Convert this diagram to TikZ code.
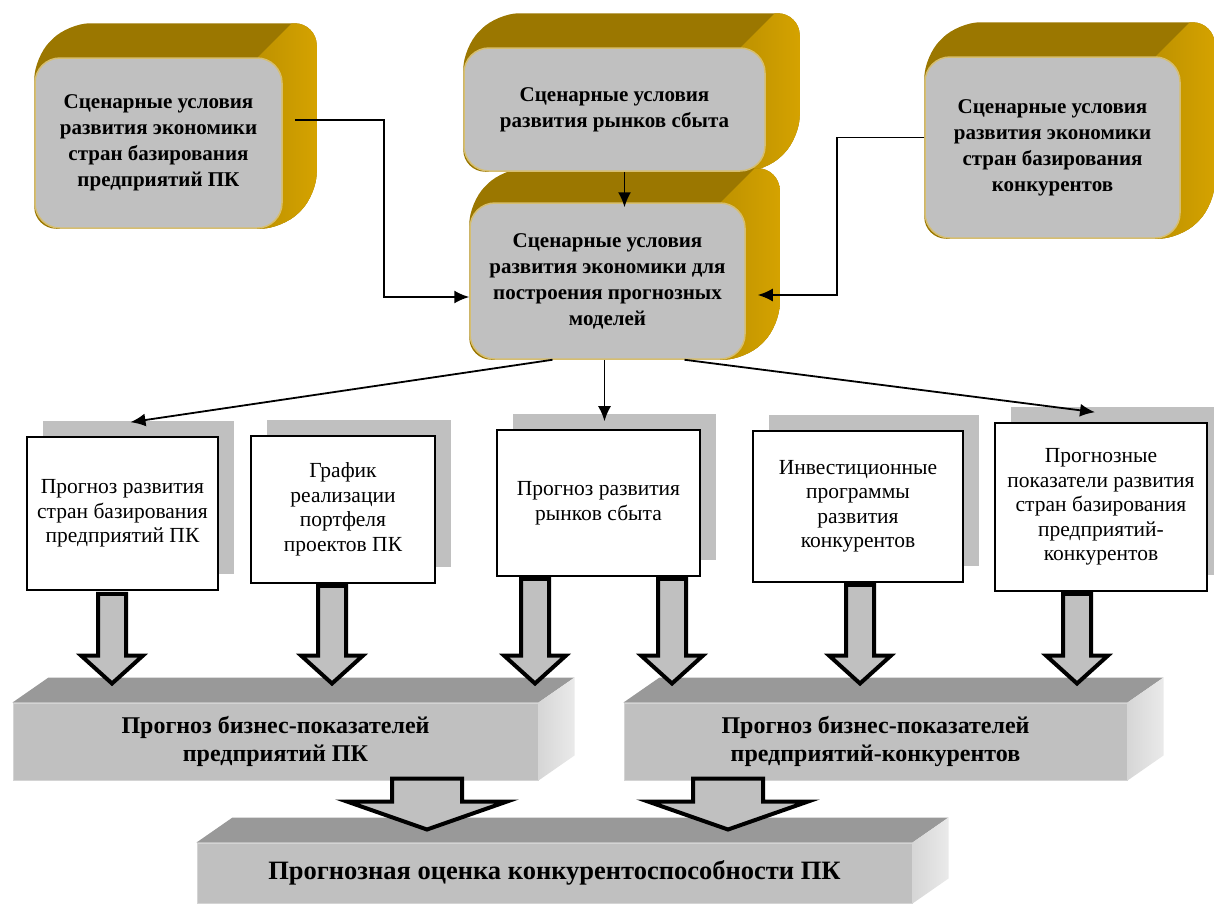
\documentclass[tikz,border=0pt]{standalone}
\usepackage{fontspec}
\setmainfont{Liberation Serif}
\usetikzlibrary{arrows.meta,shadows,backgrounds,calc}

\definecolor{facegray}{RGB}{192,192,192}
\definecolor{goldtop}{RGB}{155,119,0}
\definecolor{goldside}{RGB}{226,172,0}
\definecolor{goldsidel}{RGB}{190,146,0}
\definecolor{goldrim}{RGB}{214,190,112}
\definecolor{slabtop}{RGB}{153,153,153}
\definecolor{slabsidel}{RGB}{214,214,214}
\definecolor{slabsider}{RGB}{234,234,234}
\definecolor{slabrim}{RGB}{212,212,212}

\tikzset{
  goldface/.style={draw=goldrim, line width=1.5pt, fill=facegray, rounded corners=25pt,
    inner sep=0pt, align=center, font=\fontsize{21}{26}\selectfont\bfseries},
  whitebox/.style={draw=black, line width=1.6pt, fill=white, inner sep=0pt, align=center,
    font=\fontsize{21.5}{24.5}\selectfont,
    drop shadow={shadow xshift=16pt, shadow yshift=16pt, fill=facegray, opacity=1}},
  slabface/.style={draw=slabrim, line width=1pt, fill=facegray, inner sep=0pt, align=center,
    font=\fontsize{24}{28}\selectfont\bfseries},
  conn/.style={line width=1.8pt, -{Latex[length=15pt,width=13pt]}},
  fatarr/.style={draw=black, line width=4pt, fill=facegray},
}

% golden body behind a rounded front face
\newcommand{\goldback}[1]{%
  \begin{scope}[on background layer]
  \begin{scope}
    \path[clip, rounded corners=22pt] (#1.south west) -- (#1.north west)
      -- ([shift={(34,-34)}]#1.north west) -- ([shift={(34,-34)}]#1.north east)
      -- ([shift={(34,-34)}]#1.south east) -- (#1.south east) -- cycle;
    \fill[goldtop] ([shift={(-40,40)}]#1.south west) rectangle ([shift={(80,-80)}]#1.north east);
    \shade[left color=goldsidel, right color=goldside] ([xshift=-25pt]#1.north east) -- ++(34,-34)
      -- ++(60,0) -- ([xshift=60pt]#1.south east) -- ([xshift=-25pt]#1.south east) -- cycle;
  \end{scope}
  \end{scope}}

% top and side of a flat grey slab
\newcommand{\slabback}[1]{%
  \fill[slabtop] (#1.north west) -- ++(36,-25) -- ([shift={(36,-25)}]#1.north east) -- (#1.north east) -- cycle;
  \shade[left color=slabsidel, right color=slabsider] (#1.north east) -- ++(36,-25)
    -- ([shift={(36,-25)}]#1.south east) -- (#1.south east) -- cycle;}

% outlined block arrow: from, to, half shaft, half head
\newcommand{\fatarrow}[4]{%
  \filldraw[fatarr] let \p1=#1, \p2=#2 in
    (\x1-#3,\y1) -- (\x1+#3,\y1) -- (\x1+#3,\y2+28pt) -- (\x1+#4,\y2+28pt)
    -- (\x1,\y2) -- (\x1-#4,\y2+28pt) -- (\x1-#3,\y2+28pt) -- cycle;}

\begin{document}
\begin{tikzpicture}[x=1pt,y=-1pt]
  \useasboundingbox (0,0) rectangle (1214,905);

  % scenario boxes
  \node[goldface, minimum width=247pt, minimum height=170pt] (sl) at (158.5,143)
    {Сценарные условия\\развития экономики\\стран базирования\\предприятий ПК};
  \node[goldface, minimum width=301pt, minimum height=123pt] (sm) at (614.5,109.5)
    {Сценарные условия\\развития рынков сбыта};
  \node[goldface, minimum width=255pt, minimum height=181pt] (sr) at (1052.5,147.5)
    {Сценарные условия\\развития экономики\\стран базирования\\конкурентов};
  \node[goldface, minimum width=275pt, minimum height=156pt] (mid) at (607.5,281)
    {Сценарные условия\\развития экономики для\\построения прогнозных\\моделей};
  \goldback{sl} \goldback{sm} \goldback{sr} \goldback{mid}

  \draw[conn] ([xshift=12pt,yshift=23pt]sl.east) -- ++(89,0) |- ([yshift=-16pt]mid.west);
  \draw[conn] ([yshift=10pt]sr.west) -- ++(-87,0) |- ([xshift=12pt,yshift=-14pt]mid.east);
  \draw[conn] ([xshift=10pt]sm.south) -- ([xshift=17pt,yshift=-5pt]mid.north);

  % forecast boxes
  \node[whitebox, minimum width=191pt, minimum height=153pt] (b1) at (122.5,513.5)
    {Прогноз развития\\стран базирования\\предприятий ПК};
  \node[whitebox, minimum width=184pt, minimum height=147pt] (b2) at (343,509.5)
    {График\\реализации\\портфеля\\проектов ПК};
  \node[whitebox, minimum width=203pt, minimum height=146pt] (b3) at (598.5,503)
    {Прогноз развития\\рынков сбыта};
  \node[whitebox, minimum width=210pt, minimum height=151pt] (b4) at (858,506.5)
    {Инвестиционные\\программы\\развития\\конкурентов};
  \node[whitebox, minimum width=212pt, minimum height=168pt] (b5) at (1101,507)
    {Прогнозные\\показатели развития\\стран базирования\\предприятий-\\конкурентов};

  \draw[conn] ([xshift=-55pt]mid.south) -- ([xshift=8pt,yshift=14pt]b1.north);
  \draw[conn] ([xshift=-3pt]mid.south) -- ([xshift=6pt,yshift=8pt]b3.north);
  \draw[conn] ([xshift=77pt]mid.south) -- ([xshift=-6pt,yshift=10pt]b5.north);

  % result slabs
  \node[slabface, minimum width=525pt, minimum height=77pt] (s1) at (275.5,741.5)
    {Прогноз бизнес-показателей\\предприятий ПК};
  \node[slabface, minimum width=503pt, minimum height=77pt] (s2) at (875.5,741.5)
    {Прогноз бизнес-показателей\\предприятий-конкурентов};
  \node[slabface, minimum width=715pt, minimum height=60pt, font=\fontsize{26.5}{30}\selectfont\bfseries]
    (s3) at (554.5,873) {Прогнозная оценка конкурентоспособности ПК};
  \slabback{s1} \slabback{s2} \slabback{s3}

  \fatarrow{([xshift=-10.5pt,yshift=-3pt]b1.south)}{([yshift=19pt]s1.north)}{14pt}{31pt}
  \fatarrow{([xshift=-11pt,yshift=-2pt]b2.south)}{([yshift=19pt]s1.north)}{14pt}{31pt}
  \fatarrow{([xshift=-63.5pt,yshift=-2pt]b3.south)}{([yshift=19pt]s1.north)}{14pt}{31pt}
  \fatarrow{([xshift=73.5pt,yshift=-2pt]b3.south)}{([yshift=19pt]s2.north)}{14pt}{31pt}
  \fatarrow{([xshift=2pt,yshift=-2pt]b4.south)}{([yshift=19pt]s2.north)}{14pt}{31pt}
  \fatarrow{([xshift=-24pt,yshift=-2pt]b5.south)}{([yshift=19pt]s2.north)}{14pt}{31pt}
  \fatarrow{([xshift=151.5pt,yshift=2pt]s1.south)}{([yshift=13pt]s3.north)}{35pt}{80pt}
  \fatarrow{([xshift=-147.5pt,yshift=2pt]s2.south)}{([yshift=13pt]s3.north)}{35pt}{80pt}
\end{tikzpicture}
\end{document}
